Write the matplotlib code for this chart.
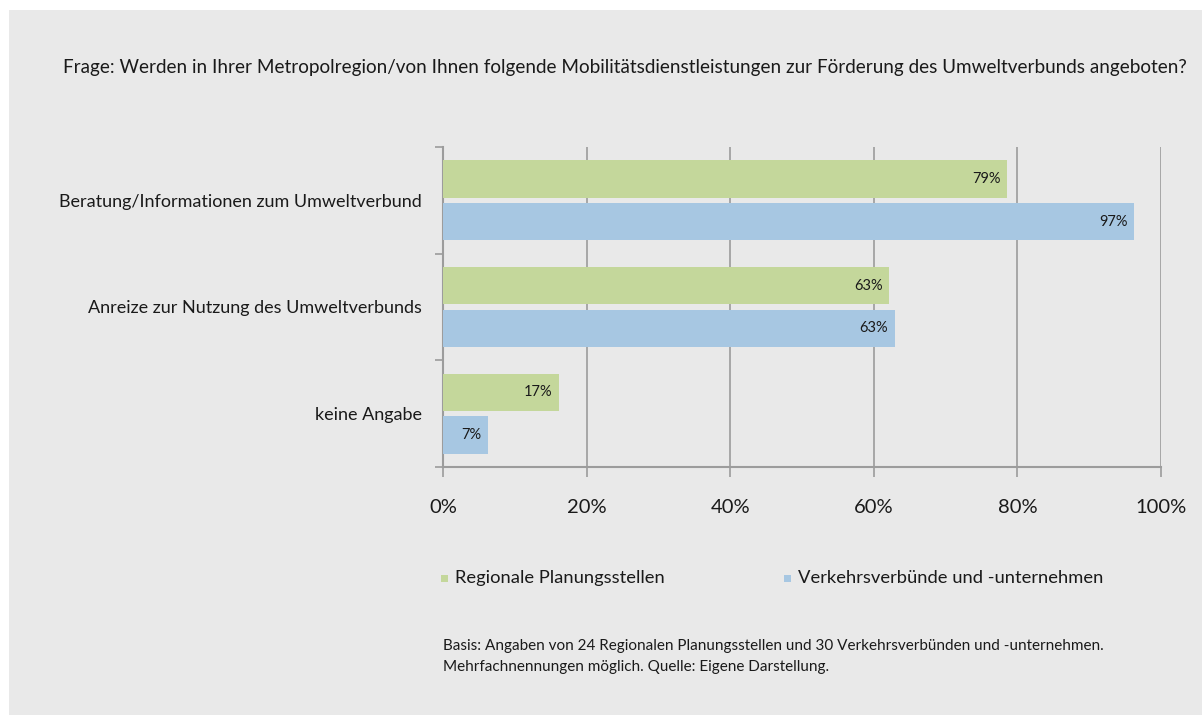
import matplotlib
matplotlib.use("Agg")
import matplotlib.pyplot as plt
from matplotlib.patches import Rectangle
import numpy as np

plt.rcParams['font.family'] = ['Lato', 'DejaVu Sans']

# data
categories = ["Beratung/Informationen zum Umweltverbund",
              "Anreize zur Nutzung des Umweltverbunds",
              "keine Angabe"]
regional = [78.6, 62.1, 16.1]
verkehr = [96.3, 62.9, 6.3]
regional_labels = ["79%", "63%", "17%"]
verkehr_labels = ["97%", "63%", "7%"]
series_names = ["Regionale Planungsstellen", "Verkehrsverbünde und -unternehmen"]
xticks = [0, 20, 40, 60, 80, 100]

green = "#c4d79b"
blue = "#a7c7e2"
bg = "#e9e9e9"
grid = "#9c9c9c"

fig = plt.figure(figsize=(12.02, 7.15), dpi=100, facecolor="white")
fig.patches.append(Rectangle((9 / 1202, 0), 1, 1 - 10 / 715, transform=fig.transFigure,
                             facecolor=bg, edgecolor="none", zorder=-1))

ax = fig.add_axes([443 / 1202, 248 / 715, 718 / 1202, 320 / 715])
ax.set_facecolor(bg)

y = np.arange(len(categories))
h = 0.35
ax.barh(y - 0.2, regional, height=h, color=green, zorder=3)
ax.barh(y + 0.2, verkehr, height=h, color=blue, zorder=3)

for i in range(len(categories)):
    ax.text(regional[i] - 0.9, y[i] - 0.2, regional_labels[i], ha="right", va="center",
            fontsize=10.5, color="#1a1a1a", zorder=4)
    ax.text(verkehr[i] - 0.9, y[i] + 0.2, verkehr_labels[i], ha="right", va="center",
            fontsize=10.5, color="#1a1a1a", zorder=4)

ax.set_xlim(0, 100)
ax.set_ylim(len(categories) - 0.5, -0.5)
ax.set_xticks(xticks)
ax.set_xticklabels([f"{t}%" for t in xticks], fontsize=14.5)
ax.tick_params(axis="x", length=7, color=grid, width=1.2, pad=16, labelcolor="#1a1a1a")
ax.xaxis.grid(True, color=grid, linewidth=1.2, zorder=0)

ax.set_yticks(y)
ax.set_yticklabels(categories, fontsize=13, color="#1a1a1a")
ax.set_yticks(np.arange(len(categories) + 1) - 0.5, minor=True)
ax.tick_params(axis="y", which="major", length=0, pad=15)
ax.tick_params(axis="y", which="minor", length=6, color=grid, width=1.2)

for s in ["top", "right"]:
    ax.spines[s].set_visible(False)
for s in ["left", "bottom"]:
    ax.spines[s].set_color(grid)
    ax.spines[s].set_linewidth(1.5)

fig.text(625 / 1202, 1 - 68 / 715,
         "Frage: Werden in Ihrer Metropolregion/von Ihnen folgende Mobilitätsdienstleistungen "
         "zur Förderung des Umweltverbunds angeboten?",
         ha="center", va="center", fontsize=13.6, color="#1a1a1a")

# legend
for name, col, x0 in [(series_names[0], green, 441), (series_names[1], blue, 784)]:
    fig.patches.append(Rectangle((x0 / 1202, 1 - 582 / 715), 7 / 1202, 7 / 715,
                                 transform=fig.transFigure, facecolor=col, edgecolor="none"))
    fig.text((x0 + 14) / 1202, 1 - 578 / 715, name, ha="left", va="center",
             fontsize=13.2, color="#1a1a1a")

fig.text(443 / 1202, 1 - 646 / 715,
         "Basis: Angaben von 24 Regionalen Planungsstellen und 30 Verkehrsverbünden und -unternehmen.",
         ha="left", va="center", fontsize=11, color="#1a1a1a")
fig.text(443 / 1202, 1 - 667 / 715,
         "Mehrfachnennungen möglich. Quelle: Eigene Darstellung.",
         ha="left", va="center", fontsize=11, color="#1a1a1a")

fig.savefig("out.png", dpi=100, facecolor="white")
